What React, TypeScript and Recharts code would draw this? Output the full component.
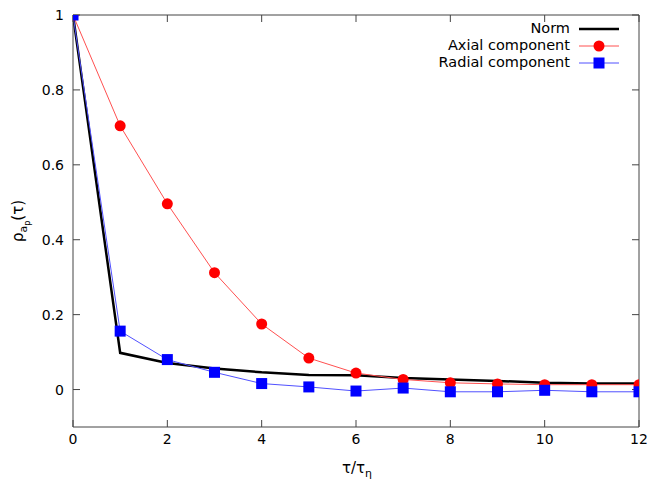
import React from "react";
import { ComposedChart, Line, XAxis, YAxis } from "recharts";

const tau = [0, 1, 2, 3, 4, 5, 6, 7, 8, 9, 10, 11, 12];
const norm = [1, 0.098, 0.071, 0.056, 0.046, 0.039, 0.038, 0.031, 0.027, 0.023, 0.018, 0.016, 0.016];
const axial = [1, 0.704, 0.496, 0.312, 0.175, 0.084, 0.044, 0.027, 0.018, 0.015, 0.013, 0.013, 0.013];
const radial = [1, 0.156, 0.08, 0.046, 0.016, 0.007, -0.004, 0.004, -0.006, -0.006, -0.002, -0.006, -0.006];

const xTicks = [0, 2, 4, 6, 8, 10, 12];
const yTicks = [0, 0.2, 0.4, 0.6, 0.8, 1];

const data = tau.map((t, i) => ({ t, norm: norm[i], axial: axial[i], radial: radial[i] }));

const FONT = "DejaVu Sans, sans-serif";
const tickStyle = { fontSize: 14, fill: "#000", fontFamily: FONT };
const axisStroke = { stroke: "#444", strokeWidth: 1 };

function SquareDot(props: any) {
  const { cx, cy } = props;
  if (cx == null || cy == null) return null;
  return <rect x={cx - 5.5} y={cy - 5.5} width={11} height={11} fill="#0000ff" />;
}

function CircleDot(props: any) {
  const { cx, cy } = props;
  if (cx == null || cy == null) return null;
  return <circle cx={cx} cy={cy} r={5.5} fill="#ff0000" />;
}

const emptyTick = () => <g />;

function LegendBox() {
  const rows = [
    { label: "Norm", color: "#000", width: 2.5, marker: null as null | string },
    { label: "Axial component", color: "#ff5050", width: 1, marker: "circle" },
    { label: "Radial component", color: "#5050ff", width: 1, marker: "square" },
  ];
  return (
    <div style={{ position: "absolute", top: 20, right: 28, fontFamily: FONT, fontSize: 14.5, color: "#000" }}>
      {rows.map((r) => (
        <div key={r.label} style={{ display: "flex", alignItems: "center", justifyContent: "flex-end", height: 17 }}>
          <span style={{ lineHeight: "15px" }}>{r.label}</span>
          <svg width={50} height={14} style={{ marginLeft: 5 }}>
            <line x1={4} y1={7} x2={44} y2={7} stroke={r.color} strokeWidth={r.width} />
            {r.marker === "circle" && <circle cx={24} cy={7} r={5.5} fill="#ff0000" />}
            {r.marker === "square" && <rect x={18.5} y={1.5} width={11} height={11} fill="#0000ff" />}
          </svg>
        </div>
      ))}
    </div>
  );
}

export default function App() {
  return (
    <div style={{ position: "absolute", left: 0, top: 0, width: 653, height: 482, background: "#fff" }}>
      <ComposedChart width={653} height={482} data={data} margin={{ top: 0, right: 0, bottom: 0, left: 0 }}>
        <XAxis
          dataKey="t"
          type="number"
          domain={[0, 12]}
          ticks={xTicks}
          interval={0}
          tick={tickStyle}
          tickSize={-7}
          tickMargin={14}
          axisLine={axisStroke}
          tickLine={axisStroke}
          height={55}
          allowDataOverflow
        />
        <XAxis
          xAxisId="top"
          orientation="top"
          dataKey="t"
          type="number"
          domain={[0, 12]}
          ticks={xTicks}
          interval={0}
          tick={emptyTick}
          tickSize={-7}
          axisLine={axisStroke}
          tickLine={axisStroke}
          height={15}
          allowDataOverflow
        />
        <YAxis
          type="number"
          domain={[-0.1, 1]}
          ticks={yTicks}
          interval={0}
          tick={tickStyle}
          tickFormatter={(v: number) => String(Math.round(v * 10) / 10)}
          tickSize={-7}
          tickMargin={16}
          axisLine={axisStroke}
          tickLine={axisStroke}
          width={73}
          allowDataOverflow
        />
        <YAxis
          yAxisId="right"
          orientation="right"
          type="number"
          domain={[-0.1, 1]}
          ticks={yTicks}
          interval={0}
          tick={emptyTick}
          tickSize={-7}
          axisLine={axisStroke}
          tickLine={axisStroke}
          width={14}
          allowDataOverflow
        />
        <Line xAxisId="top" yAxisId="right" dataKey="norm" stroke="none" dot={false} activeDot={false} isAnimationActive={false} />
        <Line dataKey="norm" stroke="#000" strokeWidth={2.5} dot={false} isAnimationActive={false} />
        <Line dataKey="axial" stroke="#ff5050" strokeWidth={1} dot={<CircleDot />} isAnimationActive={false} />
        <Line dataKey="radial" stroke="#5050ff" strokeWidth={1} dot={<SquareDot />} isAnimationActive={false} />
        <text x={357} y={473} textAnchor="middle" fontFamily={FONT} fontSize={15}>
          τ/τ<tspan fontSize={11} dy={4}>η</tspan>
        </text>
        <text transform="translate(23,221) rotate(-90)" textAnchor="middle" fontFamily={FONT} fontSize={15}>
          ρ<tspan fontSize={11} dy={4}>a</tspan>
          <tspan fontSize={8} dy={3}>p</tspan>
          <tspan fontSize={15} dy={-7}>(τ)</tspan>
        </text>
      </ComposedChart>
      <LegendBox />
    </div>
  );
}
